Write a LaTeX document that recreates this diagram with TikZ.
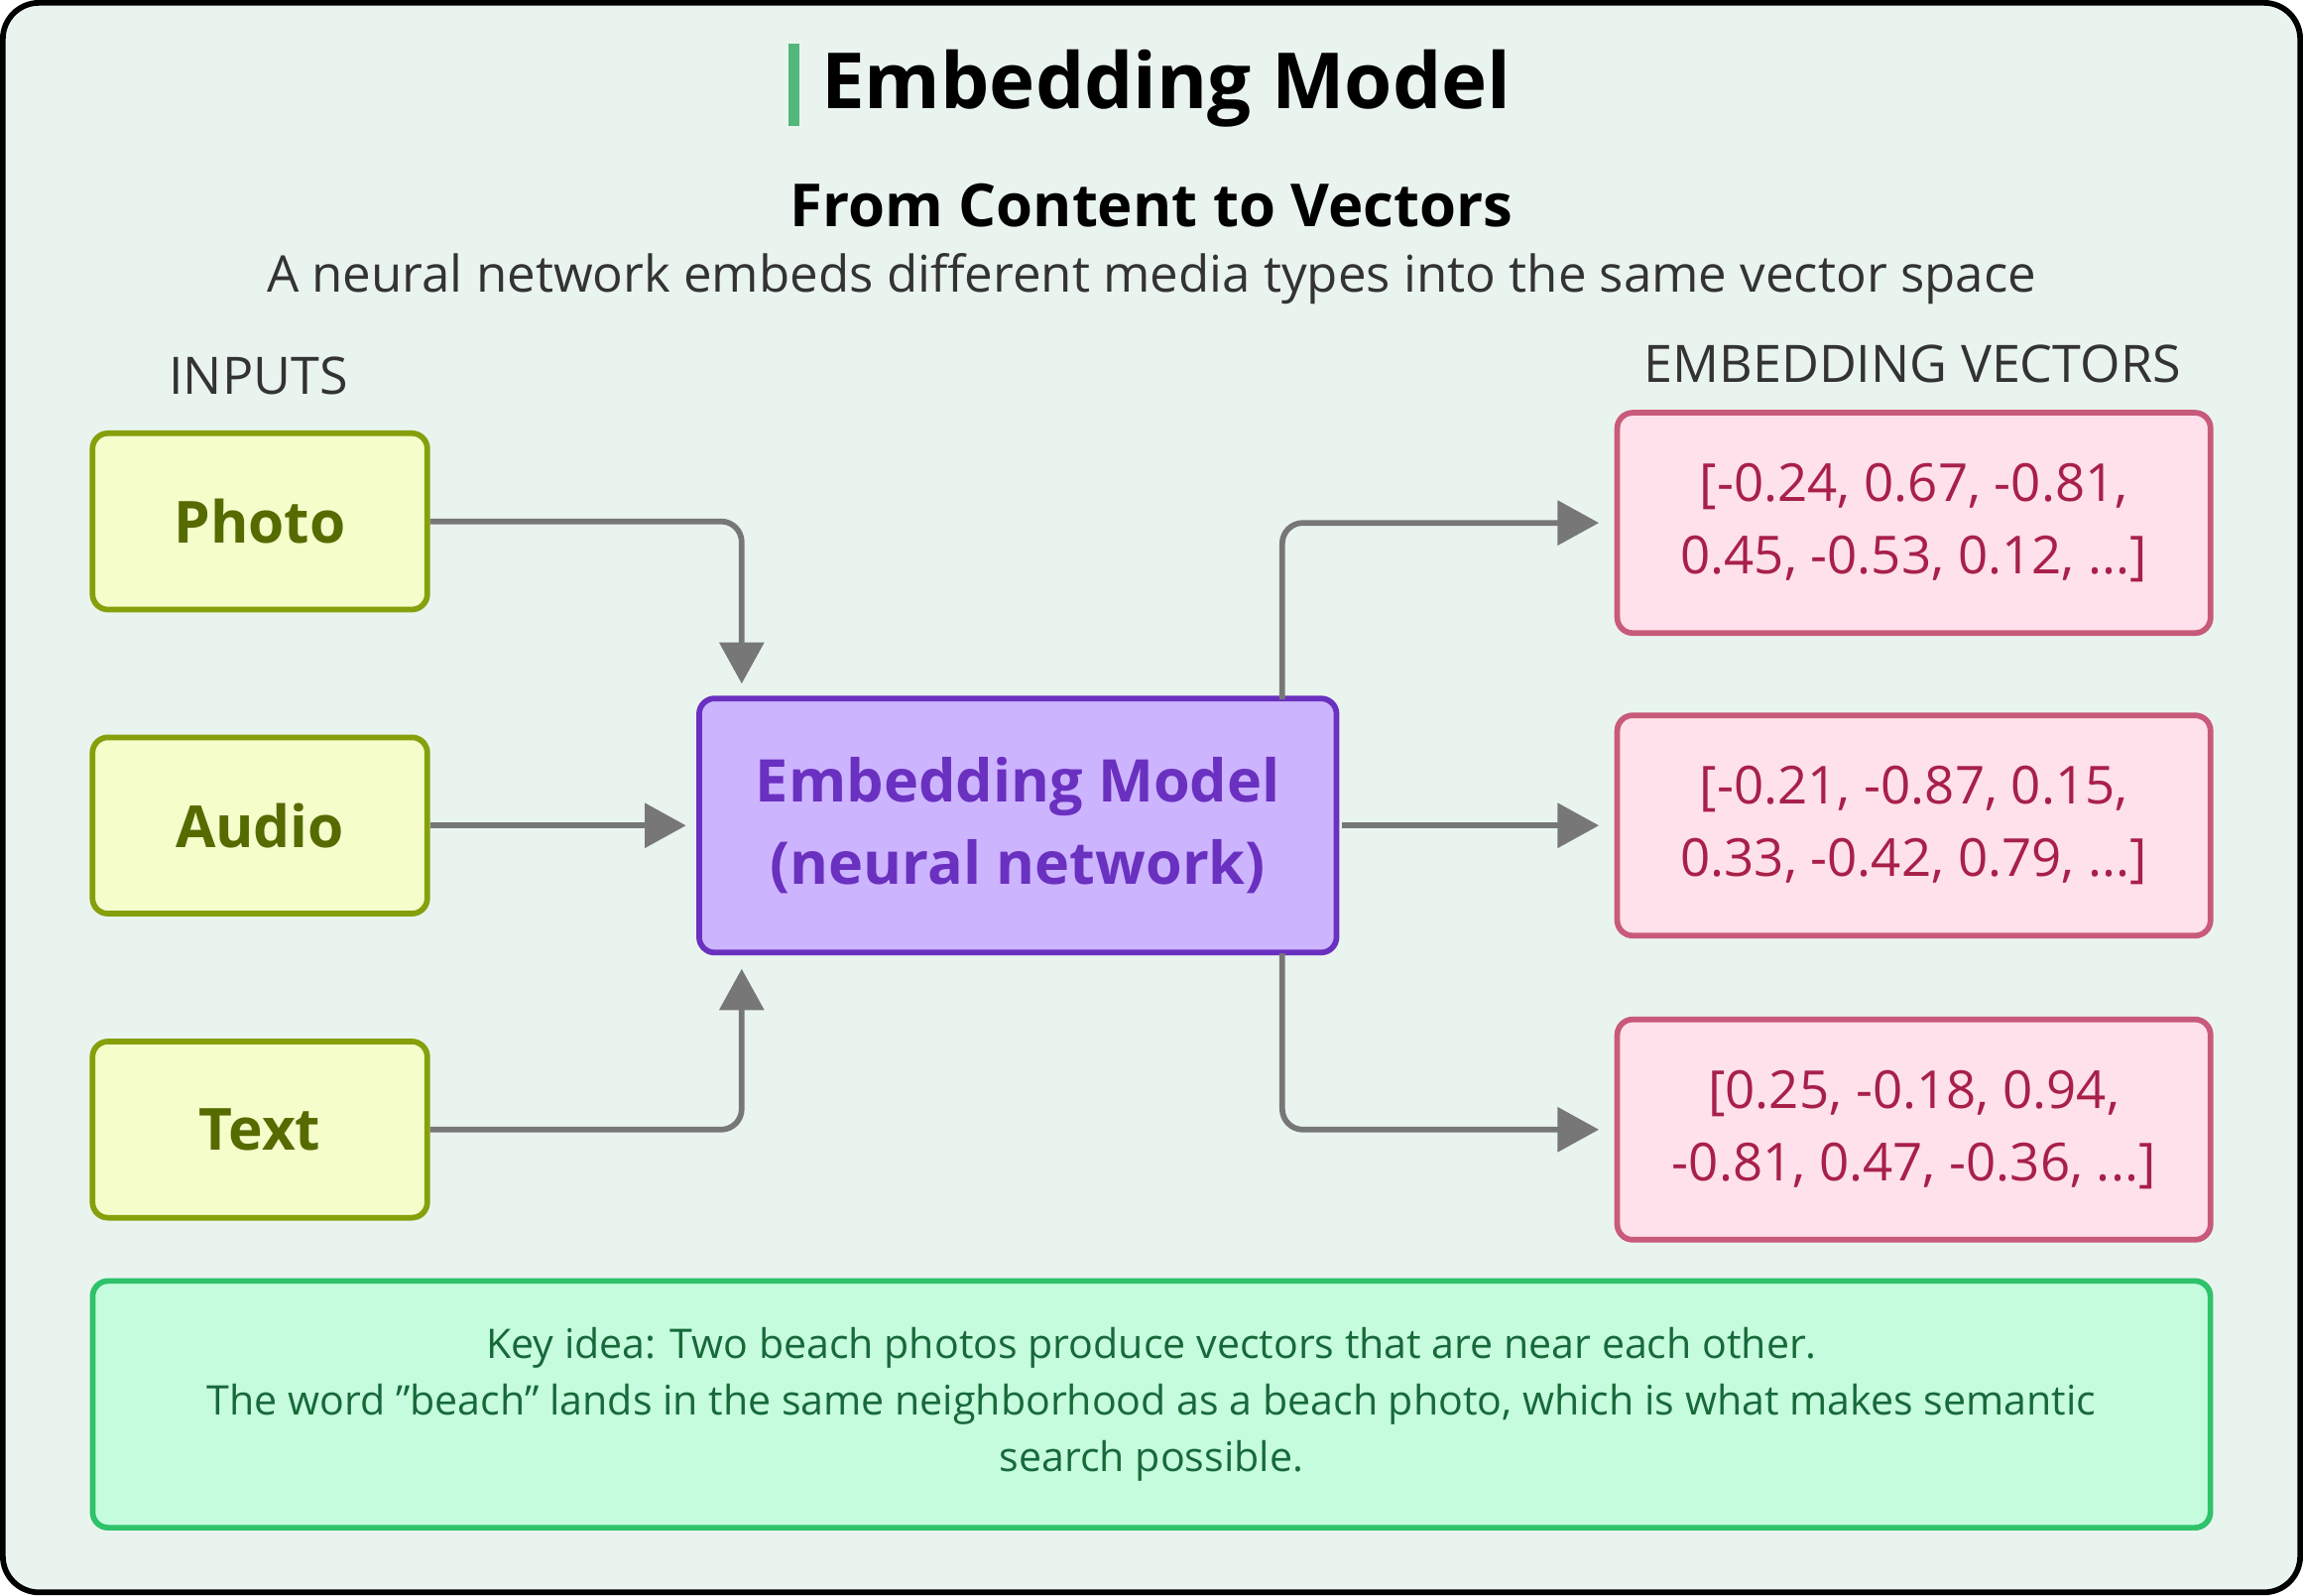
\documentclass[tikz,border=0pt]{standalone}
\usepackage{fontspec}
\setmainfont{Open Sans}
\usetikzlibrary{arrows.meta}
\definecolor{bgc}{HTML}{EAF4EF}
\definecolor{inFill}{HTML}{F5FDCB}
\definecolor{inDraw}{HTML}{86A00C}
\definecolor{inText}{HTML}{556B00}
\definecolor{mFill}{HTML}{CDB4FE}
\definecolor{mDraw}{HTML}{6A30C0}
\definecolor{outFill}{HTML}{FEE1EA}
\definecolor{outDraw}{HTML}{C85A7A}
\definecolor{outText}{HTML}{A8204A}
\definecolor{keyFill}{HTML}{C6FCDE}
\definecolor{keyDraw}{HTML}{2EC26A}
\definecolor{keyText}{HTML}{17693A}
\definecolor{arr}{HTML}{777777}
\begin{document}
\begin{tikzpicture}[x=0.02cm,y=-0.02cm]
	\tikzstyle{input} = [rectangle,draw=inDraw,fill=inFill,line width=2.2pt,rounded corners=6pt,minimum width=4.56cm,minimum height=2.4cm,text=inText,font=\fontsize{22.5}{26}\selectfont\bfseries]
	\tikzstyle{model} = [rectangle,draw=mDraw,fill=mFill,line width=2.2pt,rounded corners=6pt,minimum width=8.68cm,minimum height=3.46cm,text=mDraw,align=center,font=\fontsize{22.8}{32}\selectfont\bfseries]
	\tikzstyle{vec}   = [rectangle,draw=outDraw,fill=outFill,line width=2.2pt,rounded corners=6pt,minimum width=8.08cm,minimum height=3cm,text=outText,align=center,font=\fontsize{20.3}{28}\selectfont]
	\tikzstyle{flow}  = [draw=arr,line width=2.2pt,rounded corners=8pt,-{Triangle[length=16pt,width=17pt]}]

	\draw[line width=2.2pt,fill=bgc,rounded corners=14pt] (2,2) rectangle (1566,1084);
	\fill[keyDraw!85!black!80] (537,30) rectangle (544,86);
	\node[anchor=west,font=\fontsize{30}{36}\selectfont\bfseries] (title) at (553,60) {Embedding Model};
	\node[font=\fontsize{23}{28}\selectfont\bfseries] (sub) at (784,140) {From Content to Vectors};
	\node[text=black!80,font=\fontsize{19.6}{24}\selectfont] (desc) at (784,190) {A neural network embeds different media types into the same vector space};
	\node[text=black!80,font=\fontsize{20}{24}\selectfont] (inlab) at (176,256) {INPUTS};
	\node[text=black!80,font=\fontsize{20}{24}\selectfont] (outlab) at (1302,248) {EMBEDDING VECTORS};

	\node[input] (photo) at (177,355) {Photo};
	\node[input] (audio) at (177,562) {Audio};
	\node[input] (text)  at (177,769) {Text};
	\node[model] (model) at (693,562) {Embedding Model\\(neural network)};
	\node[vec] (v1) at (1303,356) {[-0.24, 0.67, -0.81,\\0.45, -0.53, 0.12, ...]};
	\node[vec] (v2) at (1303,562) {[-0.21, -0.87, 0.15,\\0.33, -0.42, 0.79, ...]};
	\node[vec] (v3) at (1303,769) {[0.25, -0.18, 0.94,\\-0.81, 0.47, -0.36, ...]};
	\node[rectangle,draw=keyDraw,fill=keyFill,line width=2.2pt,rounded corners=6pt,minimum width=28.84cm,minimum height=3.36cm,text=keyText,align=center,font=\fontsize{15.8}{22}\selectfont] (key) at (784,956)
		{Key idea: Two beach photos produce vectors that are near each other.\\The word ”beach” lands in the same neighborhood as a beach photo, which is what makes semantic\\search possible.};

	\coordinate (m1) at (505,476);
	\coordinate (m3) at (505,649);
	\coordinate (o1) at (873,476);
	\coordinate (o3) at (873,649);
	\draw[flow,shorten >=6pt] (photo.east) -| (m1);
	\draw[flow,shorten >=4pt] (audio.east) -- (model.west);
	\draw[flow,shorten >=6pt] (text.east) -| (m3);
	\draw[flow,shorten >=6pt] (o1) |- (v1.west);
	\draw[flow,shorten >=6pt,shorten <=1pt] (model.east) -- (v2.west);
	\draw[flow,shorten >=6pt] (o3) |- (v3.west);
\end{tikzpicture}
\end{document}
